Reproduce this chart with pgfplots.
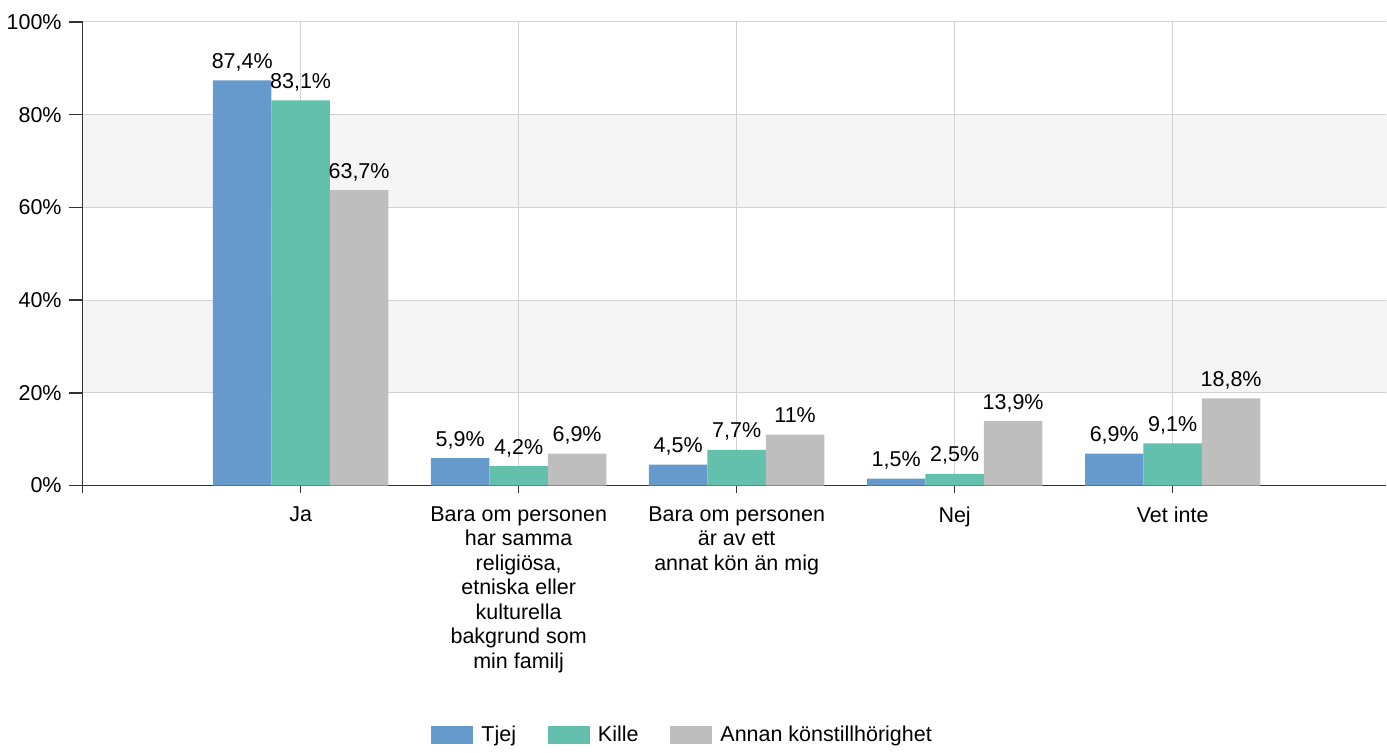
\documentclass[border=0pt]{standalone}
\usepackage{pgfplots}
\pgfplotsset{compat=1.18}
\usepackage{fontspec}
\setmainfont{Liberation Sans}
\definecolor{cTjej}{RGB}{102,153,204}
\definecolor{cKille}{RGB}{99,192,173}
\definecolor{cAnnan}{RGB}{190,190,190}
\definecolor{band}{RGB}{245,245,245}
\definecolor{gridc}{RGB}{210,210,210}
\definecolor{axc}{RGB}{51,51,51}
\begin{document}
\begin{tikzpicture}
\begin{axis}[
 set layers,
 scale only axis, width=652.5pt, height=232pt,
 at={(0,0)}, anchor=south west,
 ybar=0pt, bar width=29.25pt,
 xmin=-1, xmax=4.98, ymin=0, ymax=100,
 xtick={-1,0,1,2,3,4},
 xticklabels={{},Ja,{Bara om personen\\har samma\\religiösa,\\etniska eller\\kulturella\\bakgrund som\\min familj},{Bara om personen\\är av ett\\annat kön än mig},Nej,Vet inte},
 ytick={0,20,...,100},
 yticklabel={\pgfmathprintnumber{\tick}\%},
 /pgf/number format/assume math mode=true,
 axis x line*=bottom, axis y line*=left,
 axis line style={draw=axc, line width=0.7pt, -},
 tick style={draw=axc, line width=0.7pt},
 tick align=outside,
 major tick length=7pt,
 xtick style={yshift=3.5pt},
 grid=major,
 major grid style={draw=gridc, line width=0.5pt},
 ticklabel style={font=\fontsize{10.75}{12.25}\selectfont, text=black},
 xticklabel style={align=center},
 nodes near coords={\pgfmathprintnumber[use comma]{\pgfplotspointmeta}\%},
 every node near coord/.append style={font=\fontsize{10.75}{12}\selectfont, text=black, anchor=base, inner sep=0pt, yshift=6pt},
 legend columns=3,
 legend style={at={(0.461,-0.539)}, anchor=center, draw=none, fill=none,
   font=\fontsize{10.75}{12}\selectfont,
   /tikz/every even column/.append style={column sep=14pt},
   /tikz/every odd column/.append style={column sep=2pt}},
 every axis plot post/.append style={/pgfplots/legend image code/.code={\fill[##1] (0pt,-4.5pt) rectangle (21pt,4.5pt);}},
]
\begin{pgfonlayer}{axis background}
\fill[band] (axis cs:-1,20) rectangle (axis cs:5,40);
\fill[band] (axis cs:-1,60) rectangle (axis cs:5,80);
\end{pgfonlayer}
\addplot[fill=cTjej, draw=none] coordinates {(0,87.4) (1,5.9) (2,4.5) (3,1.5) (4,6.9)};
\addplot[fill=cKille, draw=none] coordinates {(0,83.1) (1,4.2) (2,7.7) (3,2.5) (4,9.1)};
\addplot[fill=cAnnan, draw=none] coordinates {(0,63.7) (1,6.9) (2,11) (3,13.9) (4,18.8)};
\legend{Tjej,Kille,Annan könstillhörighet}
\end{axis}
\path (-41pt,-130.5pt) rectangle (652.5pt,243pt);
\end{tikzpicture}
\end{document}
